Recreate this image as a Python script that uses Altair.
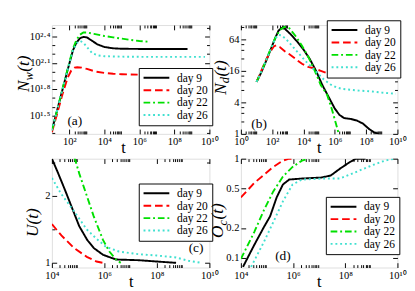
import altair as alt
import pandas as pd

DAYS = ["day 9", "day 20", "day 22", "day 26"]
COLORS = ["#000000", "#ff0000", "#00e000", "#40e0d0"]
DASHES = [[1, 0], [8, 4], [7, 3, 2, 3], [2, 3]]
SERIF = "Liberation Serif"
PANEL_LABELS = ["(a)", "(b)", "(c)", "(d)"]

# ---------------- panel (a): log10 t  vs  log10 N_w ----------------
A9_T = [1.0, 1.3, 1.6, 1.9, 2.2, 2.4, 2.6, 2.8, 3.0, 3.3, 3.6, 4.0, 4.5, 5.0, 6.0, 7.0, 8.0, 8.75]
A9_V = [1.33, 1.56, 1.79, 2.02, 2.24, 2.33, 2.38, 2.395, 2.39, 2.35, 2.31, 2.28, 2.265, 2.26, 2.258, 2.258, 2.258, 2.258]
A20_T = [1.0, 1.3, 1.6, 1.9, 2.1, 2.3, 2.45, 2.7, 3.0, 3.5, 4.0, 4.5, 5.0, 5.5, 5.9]
A20_V = [1.31, 1.52, 1.74, 1.93, 2.01, 2.045, 2.05, 2.045, 2.03, 2.0, 1.985, 1.975, 1.97, 1.966, 1.965]
A22_T = [1.0, 1.3, 1.6, 1.9, 2.2, 2.4, 2.6, 2.8, 3.0, 3.4, 4.0, 4.5, 5.0, 5.5, 6.0, 6.6]
A22_V = [1.33, 1.56, 1.8, 2.03, 2.26, 2.36, 2.42, 2.445, 2.445, 2.43, 2.405, 2.39, 2.375, 2.36, 2.348, 2.34]
A26_T = [1.0, 1.3, 1.6, 1.9, 2.2, 2.4, 2.6, 2.8, 3.0, 3.3, 3.6, 4.0, 5.0, 6.0, 7.0, 8.0, 9.0, 9.75]
A26_V = [1.33, 1.56, 1.79, 2.02, 2.24, 2.32, 2.35, 2.33, 2.28, 2.21, 2.185, 2.175, 2.17, 2.168, 2.168, 2.168, 2.168, 2.168]

# ---------------- panel (b): log10 t  vs  log2 N_d ----------------
B9_T = [1.0, 1.3, 1.6, 1.9, 2.2, 2.4, 2.6, 2.8, 3.2, 3.6, 4.0, 4.4, 4.8, 5.2, 5.6, 6.0, 6.3, 6.6, 7.0, 7.4, 7.8, 8.2, 8.5, 8.8]
B9_V = [3.3, 3.9, 4.6, 5.35, 6.1, 6.55, 6.72, 6.68, 6.3, 5.85, 5.35, 4.75, 4.0, 3.1, 2.35, 1.6, 1.2, 1.0, 0.95, 0.85, 0.65, 0.3, 0.1, 0.0]
B20_T = [1.0, 1.3, 1.6, 1.9, 2.1, 2.25, 2.5, 2.8, 3.1, 3.5, 3.9, 4.3, 4.7, 5.1, 5.5, 5.95]
B20_V = [3.3, 4.0, 4.7, 5.25, 5.55, 5.62, 5.5, 5.25, 5.05, 4.75, 4.45, 4.25, 4.15, 4.0, 3.85, 3.72]
B22_T = [1.0, 1.3, 1.6, 1.9, 2.2, 2.5, 2.8, 3.1, 3.5, 3.9, 4.3, 4.7, 5.1, 5.5, 5.8, 6.0, 6.25]
B22_V = [3.3, 3.95, 4.65, 5.4, 6.1, 6.6, 6.8, 6.7, 6.2, 5.6, 4.9, 4.05, 3.1, 2.5, 1.6, 0.9, 0.0]
B26_T = [1.0, 1.3, 1.6, 1.9, 2.2, 2.4, 2.6, 2.9, 3.3, 3.7, 4.1, 4.5, 4.9, 5.3, 5.7, 6.1, 6.5, 7.0, 7.5, 8.0, 8.5, 9.0, 9.5, 9.9]
B26_V = [3.3, 3.95, 4.65, 5.35, 6.05, 6.28, 6.25, 6.0, 5.55, 5.1, 4.65, 4.25, 3.85, 3.45, 3.15, 2.95, 2.85, 2.8, 2.75, 2.72, 2.68, 2.62, 2.58, 2.55]

# ---------------- panel (c): log10 t  vs  U ----------------
C9_T = [4.0, 4.25, 4.5, 4.75, 5.04, 5.35, 5.6, 5.95, 6.44, 7.28, 8.0, 8.73]
C9_V = [2.56, 2.33, 2.09, 1.84, 1.55, 1.34, 1.22, 1.12, 1.05, 1.04, 1.02, 1.0]
C20_T = [4.0, 4.36, 4.85, 5.33, 5.70, 5.95]
C20_V = [1.58, 1.41, 1.22, 1.09, 1.02, 1.0]
C22_T = [4.86, 5.04, 5.23, 5.59, 5.95, 6.19, 6.44, 6.62]
C22_V = [2.58, 2.34, 2.12, 1.7, 1.34, 1.17, 1.05, 1.0]
C26_T = [4.0, 4.36, 4.85, 5.33, 5.70, 6.06, 6.55, 7.28, 8.0, 8.73, 9.21, 9.70]
C26_V = [2.27, 2.03, 1.77, 1.5, 1.36, 1.24, 1.17, 1.13, 1.11, 1.08, 1.03, 1.0]

# ---------------- panel (d): log10 t  vs  log10 O_c ----------------
D9_T = [4.08, 4.51, 4.88, 5.12, 5.37, 5.61, 5.85, 6.34, 7.07, 7.44, 7.80, 8.17, 8.41, 8.78]
D9_V = [-1.09, -0.87, -0.69, -0.58, -0.39, -0.26, -0.21, -0.2, -0.19, -0.17, -0.1, -0.035, 0.0, 0.0]
D20_T = [4.0, 4.51, 4.88, 5.24, 5.61, 5.85, 5.98]
D20_V = [-0.39, -0.245, -0.163, -0.083, -0.019, 0.0, 0.0]
D22_T = [4.0, 4.51, 4.88, 5.24, 5.61, 5.98, 6.34, 6.59]
D22_V = [-1.01, -0.74, -0.52, -0.33, -0.18, -0.083, -0.019, 0.0]
D26_T = [4.39, 4.88, 5.24, 5.61, 5.98, 6.34, 7.07, 7.80, 8.17, 8.54, 9.02, 9.51, 9.88]
D26_V = [-1.09, -0.84, -0.64, -0.43, -0.26, -0.21, -0.2, -0.2, -0.16, -0.12, -0.067, -0.02, 0.0]

# ---------------- tick values and labels ----------------
XA_MAJ = [1e2, 1e4, 1e6, 1e8, 1e10]
XA_LAB = ["10²", "10⁴", "10⁶", "10⁸", "10¹⁰"]
XB_MAJ = [1e0, 1e2, 1e4, 1e6, 1e8, 1e10]
XB_LAB = ["10⁰", "10²", "10⁴", "10⁶", "10⁸", "10¹⁰"]
XC_MAJ = [1e4, 1e6, 1e8, 1e10]
XC_LAB = ["10⁴", "10⁶", "10⁸", "10¹⁰"]
YA_EXP = [1.5, 1.8, 2.1, 2.4]
YA_LAB = ["10¹·⁵", "10¹·⁸", "10²·¹", "10²·⁴"]
YA_MIN_EXP = [1.3, 1.4, 1.6, 1.7, 1.9, 2.0, 2.2, 2.3, 2.5]
YB_MAJ = [1, 4, 16, 64]
YB_LAB = ["1", "4", "16", "64"]
YB_MIN = [1.75, 2.5, 3.25, 7, 10, 13, 28, 40, 52, 112]
YC_MAJ = [1, 2]
YC_LAB = ["1", "2"]
YC_MIN = [1.5, 2.5]
YD_MAJ = [0.1, 0.2, 0.5, 1]
YD_LAB = ["0.1", "0.2", "0.5", "1"]


def minors(decades):
    return [k * 10.0 ** d for d in decades for k in range(2, 10)]


def mkdf(tl, vl, conv):
    rows = []
    for name, ts, vs in zip(DAYS, tl, vl):
        for t, v in zip(ts, vs):
            rows.append({"day": name, "t": 10.0 ** t, "v": conv(v)})
    return pd.DataFrame(rows)


def lexpr(values, labels):
    vals = ",".join(repr(float(v)) for v in values)
    labs = ",".join("'" + s + "'" for s in labels)
    return f"[{labs}][indexof([{vals}], datum.value)]"


def ax(orient, values, size, labels=None):
    kw = dict(orient=orient, values=values, tickSize=size, offset=-size, domain=False,
              grid=False, ticks=True, tickColor="#000", tickWidth=1, title=None)
    if labels is None:
        kw["labels"] = False
    else:
        kw.update(labels=True, labelExpr=lexpr(values, labels), labelFont=SERIF,
                  labelFontSize=11, labelColor="#000", labelPadding=2,
                  labelFlush=False, labelOverlap=False)
    return alt.Axis(**kw)


def leg(x, y):
    return alt.Legend(orient="none", legendX=x, legendY=y, title=None, strokeColor="#000",
                      fillColor="#fff", padding=4, labelFont=SERIF, labelFontSize=12,
                      labelColor="#000", symbolType="stroke", symbolSize=729,
                      symbolStrokeWidth=2, clipHeight=12.5, rowPadding=0, labelOffset=7,
                      symbolOffset=0)


DUMMY = pd.DataFrame({"k": [0]})


def txt(s, x, y, size, italic=False, angle=0, align="left", baseline="alphabetic"):
    return alt.Chart(DUMMY).mark_text(
        text=s, font=SERIF, fontSize=size, fontStyle="italic" if italic else "normal",
        angle=angle, align=align, baseline=baseline, color="#000"
    ).encode(x=alt.value(x), y=alt.value(y))


WID = {"N": 0.667, "U": 0.722, "O": 0.722, "w": 0.667, "d": 0.5, "c": 0.444}


def ytitle(main, sub, xb, ystart, big=18, small=13):
    parts = [txt(main, xb, ystart, big, True, 270)]
    y = ystart - WID[main] * big
    if sub:
        parts.append(txt(sub, xb + 4, y, small, True, 270))
        y -= WID[sub] * small + 0.5
    parts.append(txt("(t)", xb, y, big, True, 270))
    return parts


def panel(df, W, H, xsc, ysc, xmaj, xlab, xmin, ymaj, ylab, ymin, legpos, texts):
    base = alt.Chart(df)

    def X(a):
        return alt.X("t:Q", scale=xsc, axis=a)

    def Y(a):
        return alt.Y("v:Q", scale=ysc, axis=a)

    lines = base.mark_line(strokeWidth=2, clip=True).encode(
        x=X(ax("bottom", xmaj, 5, xlab)),
        y=Y(ax("left", ymaj, 5, ylab)),
        color=alt.Color("day:N", scale=alt.Scale(domain=DAYS, range=COLORS), legend=leg(*legpos)),
        strokeDash=alt.StrokeDash("day:N", scale=alt.Scale(domain=DAYS, range=DASHES), legend=leg(*legpos)),
    )
    inv = base.mark_point(opacity=0, clip=True)
    l2 = inv.encode(x=X(ax("bottom", xmin, 3)), y=Y(ax("left", ymin, 3)))
    l3 = inv.encode(x=X(ax("top", xmaj, 5)), y=Y(ax("right", ymaj, 5)))
    l4 = inv.encode(x=X(ax("top", xmin, 3)), y=Y(ax("right", ymin, 3)))
    return alt.layer(l2, l3, l4, lines, *texts).resolve_axis(
        x="independent", y="independent").properties(width=W, height=H)


H = 114
WL, WR = 165, 164

dfa = mkdf([A9_T, A20_T, A22_T, A26_T], [A9_V, A20_V, A22_V, A26_V], lambda v: 10.0 ** v)
dfb = mkdf([B9_T, B20_T, B22_T, B26_T], [B9_V, B20_V, B22_V, B26_V], lambda v: 2.0 ** v)
dfc = mkdf([C9_T, C20_T, C22_T, C26_T], [C9_V, C20_V, C22_V, C26_V], lambda v: v)
dfd = mkdf([D9_T, D20_T, D22_T, D26_T], [D9_V, D20_V, D22_V, D26_V], lambda v: 10.0 ** v)

pa = panel(
    dfa, WL, H,
    alt.Scale(type="log", domain=[10, 1e10], nice=False),
    alt.Scale(type="log", domain=[10 ** 1.29, 10 ** 2.53], nice=False),
    XA_MAJ, XA_LAB, minors([2, 4, 6, 8]),
    [10 ** e for e in YA_EXP], YA_LAB, [10 ** e for e in YA_MIN_EXP],
    (91, 45),
    ytitle("N", "w", -24, 70) + [txt("t", 75, H + 20, 17, align="center"),
                                 txt(PANEL_LABELS[0], 24, 101, 14, align="center", baseline="middle")],
)
pb = panel(
    dfb, WR, H,
    alt.Scale(type="log", domain=[1, 1e10], nice=False),
    alt.Scale(type="log", base=2, domain=[1, 120], nice=False),
    XB_MAJ, XB_LAB, minors([0, 2, 4, 6, 8]),
    YB_MAJ, YB_LAB, YB_MIN,
    (90, -5),
    ytitle("N", "d", -16, 73) + [txt("t", 82, H + 20, 17, align="center"),
                                 txt(PANEL_LABELS[1], 19, 104, 14, align="center", baseline="middle")],
)
pc = panel(
    dfc, WL, H,
    alt.Scale(type="log", domain=[1e4, 1e10], nice=False),
    alt.Scale(type="linear", domain=[0.93, 2.56], nice=False, zero=False),
    XC_MAJ, XC_LAB, minors([4, 6, 8]),
    YC_MAJ, YC_LAB, YC_MIN,
    (91, 26),
    ytitle("U", None, -15, 82) + [txt("t", 83, H + 20, 17, align="center"),
                                  txt(PANEL_LABELS[2], 151, 94, 14, align="center", baseline="middle")],
)
pd_ = panel(
    dfd, WR, H,
    alt.Scale(type="log", domain=[1e4, 1e10], nice=False),
    alt.Scale(type="log", domain=[0.08, 1.0], nice=False),
    XC_MAJ, XC_LAB, minors([4, 6, 8]),
    YD_MAJ, YD_LAB, [],
    (89, 40),
    ytitle("O", "c", -19, 83) + [txt("t", 82, H + 20, 17, align="center"),
                                 txt(PANEL_LABELS[3], 44, 102, 14, align="center", baseline="middle")],
)

chart = alt.concat(pa, pb, pc, pd_, columns=2, spacing={"row": 26, "column": 33}, bounds="flush")
chart = chart.resolve_scale(color="independent", strokeDash="independent").resolve_legend(
    color="independent", strokeDash="independent")
chart = chart.properties(padding={"left": 7, "top": 5, "right": 0, "bottom": 0}).configure_view(
    stroke="#000", strokeWidth=1).configure(font=SERIF)

chart.save("out.html", embed_options={"renderer": "svg", "actions": False})
